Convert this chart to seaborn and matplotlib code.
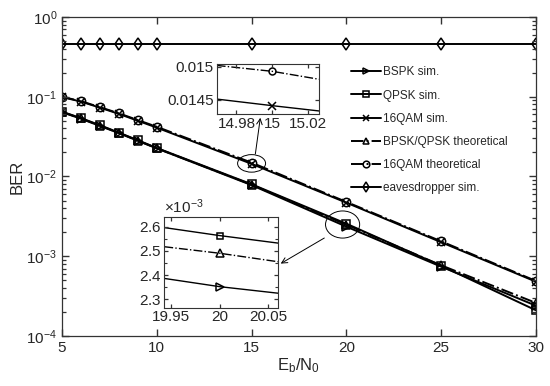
import numpy as np
import pandas as pd
import matplotlib
matplotlib.use("Agg")
import matplotlib.pyplot as plt
import seaborn as sns
from matplotlib.patches import Ellipse
from matplotlib.ticker import AutoMinorLocator, FixedLocator, NullFormatter

# Data
snr = [5, 6, 7, 8, 9, 10, 15, 20, 25, 30]
bpsk_sim = [0.064, 0.053, 0.043, 0.035, 0.028, 0.0225, 0.0078, 0.00235, 0.00074, 0.00024]
qpsk_sim = [0.065, 0.054, 0.044, 0.0355, 0.0285, 0.0228, 0.0080, 0.00256, 0.00076, 0.00021]
qam_sim = [0.099, 0.087, 0.073, 0.061, 0.050, 0.041, 0.01441, 0.0047, 0.00150, 0.00048]
bpsk_qpsk_th = [0.0645, 0.0535, 0.0435, 0.0352, 0.0282, 0.0226, 0.0079, 0.00249, 0.00077, 0.00026]
qam_th = [0.100, 0.088, 0.074, 0.062, 0.051, 0.042, 0.01493, 0.0048, 0.00154, 0.00049]
eaves_sim = [0.46, 0.46, 0.46, 0.46, 0.46, 0.46, 0.46, 0.46, 0.46, 0.46]

# zoomed values around Eb/N0 = 15
zoom1_x = [14.969, 15, 15.026]
qam_sim_z = [0.01451, 0.01441, 0.01433]
qam_th_z = [0.01502, 0.01493, 0.01481]

# zoomed values around Eb/N0 = 20
zoom2_x = [19.943, 20, 20.06]
qpsk_z = [2.596e-3, 2.563e-3, 2.532e-3]
th_z = [2.517e-3, 2.490e-3, 2.455e-3]
bpsk_z = [2.386e-3, 2.352e-3, 2.325e-3]

sns.set_style("ticks")
plt.rcParams["font.family"] = ["Liberation Sans", "DejaVu Sans"]
plt.rcParams["mathtext.fontset"] = "custom"
plt.rcParams["mathtext.rm"] = "Liberation Sans"
plt.rcParams["mathtext.it"] = "Liberation Sans"
plt.rcParams["axes.axisbelow"] = False

fig = plt.figure(figsize=(5.5, 3.86), dpi=100)
ax = fig.add_axes([0.1127, 0.1295, 0.8618, 0.8265])

series = [
    ("BSPK sim.", bpsk_sim, ">", "-"),
    ("QPSK sim.", qpsk_sim, "s", "-"),
    ("16QAM sim.", qam_sim, "x", "-"),
    ("BPSK/QPSK theoretical", bpsk_qpsk_th, "^", "-."),
    ("16QAM theoretical", qam_th, "o", "-."),
    ("eavesdropper sim.", eaves_sim, "d", "-"),
]

for label, vals, mk, ls in series:
    sns.lineplot(x=snr, y=vals, ax=ax, color="k", linestyle=ls, lw=1.4,
                 marker=mk, markersize=6, markerfacecolor="none",
                 markeredgecolor="k", markeredgewidth=1.1,
                 errorbar=None, label=label)

ax.set_yscale("log")
ax.set_xlim(5, 30)
ax.set_ylim(1e-4, 1)
ax.set_xticks([5, 10, 15, 20, 25, 30])
minor_y = [m * 10.0 ** e for e in range(-4, 0) for m in range(2, 10)]
ax.yaxis.set_minor_locator(FixedLocator(minor_y))
ax.yaxis.set_minor_formatter(NullFormatter())
ax.xaxis.set_minor_locator(FixedLocator([]))
ax.tick_params(which="both", direction="in", top=True, right=True, labelsize=11,
               color="#333333")
ax.tick_params(which="major", length=5, width=1.0)
ax.tick_params(axis="y", which="minor", left=True, right=True,
               length=3, width=0.9)
for s in ax.spines.values():
    s.set_linewidth(0.9)
    s.set_color("#333333")
ax.set_xlabel(r"E$_\mathregular{b}$/N$_\mathregular{0}$", fontsize=12, labelpad=1)
ax.set_ylabel("BER", fontsize=12, labelpad=1)

leg = ax.legend(loc="upper left", bbox_to_anchor=(0.6, 0.86), frameon=False,
                fontsize=8.5, handlelength=2.55, handletextpad=0.15,
                labelspacing=0.95, borderaxespad=0, markerscale=0.8)

# ellipses around zoomed regions
def ellipse_at(x, y, w, h, dx=0.0):
    cx, cy = ax.transAxes.inverted().transform(ax.transData.transform((x, y)))
    e = Ellipse((cx + dx, cy), w, h, transform=ax.transAxes, fill=False,
                edgecolor="k", lw=0.7)
    ax.add_patch(e)

ellipse_at(15, 0.0146, 0.059, 0.055)
ellipse_at(20, 0.0025, 0.072, 0.085, dx=-0.008)

# inset 1
ax1 = fig.add_axes([0.394, 0.704, 0.186, 0.130])
sns.lineplot(x=zoom1_x, y=qam_sim_z, ax=ax1, color="k", lw=1.0, marker="x",
             markevery=[1], markersize=6, markeredgecolor="k",
             markeredgewidth=1.1, errorbar=None)
sns.lineplot(x=zoom1_x, y=qam_th_z, ax=ax1, color="k", lw=1.0, linestyle="-.",
             marker="o", markevery=[1], markersize=5, markerfacecolor="none",
             markeredgecolor="k", markeredgewidth=1.1, errorbar=None)
ax1.set_xlim(14.969, 15.026)
ax1.set_ylim(0.01428, 0.01504)
ax1.set_xticks([14.98, 15, 15.02])
ax1.set_xticklabels(["14.98", "15", "15.02"])
ax1.set_yticks([0.0145, 0.015])
ax1.set_yticklabels(["0.0145", "0.015"])
ax1.yaxis.set_minor_locator(FixedLocator([]))

# inset 2
ax2 = fig.add_axes([0.2987, 0.2028, 0.2067, 0.2358])
sns.lineplot(x=zoom2_x, y=qpsk_z, ax=ax2, color="k", lw=1.0, marker="s",
             markevery=[1], markersize=5, markerfacecolor="none",
             markeredgecolor="k", markeredgewidth=1.1, errorbar=None)
sns.lineplot(x=zoom2_x, y=th_z, ax=ax2, color="k", lw=1.0, linestyle="-.",
             marker="^", markevery=[1], markersize=6, markerfacecolor="none",
             markeredgecolor="k", markeredgewidth=1.1, errorbar=None)
sns.lineplot(x=zoom2_x, y=bpsk_z, ax=ax2, color="k", lw=1.0, marker=">",
             markevery=[1], markersize=6, markerfacecolor="none",
             markeredgecolor="k", markeredgewidth=1.1, errorbar=None)
ax2.set_xlim(19.943, 20.06)
ax2.set_ylim(2.265e-3, 2.641e-3)
ax2.set_xticks([19.95, 20, 20.05])
ax2.set_xticklabels(["19.95", "20", "20.05"])
ax2.set_yticks([2.3e-3, 2.4e-3, 2.5e-3, 2.6e-3])
ax2.ticklabel_format(axis="y", style="sci", scilimits=(0, 0), useMathText=True)
ax2.yaxis.set_minor_locator(AutoMinorLocator(2))
ax2.yaxis.get_offset_text().set_fontsize(11)

for a in (ax1, ax2):
    a.set_facecolor("white")
    a.tick_params(which="both", direction="in", top=True, right=True,
                  labelsize=11, pad=2, color="#333333")
    a.tick_params(which="major", length=3, width=0.9)
    a.tick_params(axis="y", which="minor", left=True, right=True,
                  length=2, width=0.8)
    for s in a.spines.values():
        s.set_linewidth(0.8)
        s.set_color("#333333")

# arrows from ellipses to insets
ax.annotate("", xy=(0.474, 0.702), xycoords="figure fraction",
            xytext=(0.4636, 0.594), textcoords="figure fraction",
            arrowprops=dict(arrowstyle="->", lw=0.7, color="k"))
ax.annotate("", xy=(0.506, 0.3135), xycoords="figure fraction",
            xytext=(0.594, 0.387), textcoords="figure fraction",
            arrowprops=dict(arrowstyle="->", lw=0.7, color="k"))

fig.savefig("out.png", dpi=100)
